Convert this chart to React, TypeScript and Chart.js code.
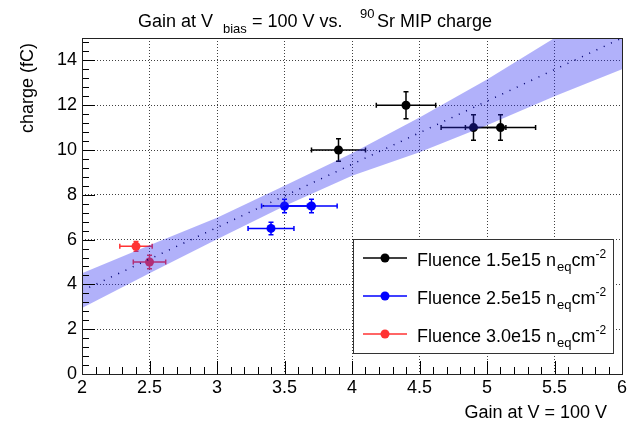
import React, { useEffect, useRef } from 'react';
import { Chart, registerables } from 'chart.js';

Chart.register(...registerables);

// ---- axis ranges & ticks ----
const X_MIN = 2;
const X_MAX = 6;
const Y_MIN = 0;
const Y_MAX = 15;
const X_TICKS = [2, 2.5, 3, 3.5, 4, 4.5, 5, 5.5, 6];
const Y_TICKS = [0, 2, 4, 6, 8, 10, 12, 14];
const X_MINOR_STEP = 0.1;
const Y_MINOR_STEP = 0.4;

// ---- series ----
const SERIES_LABELS = ['Fluence 1.5e15', 'Fluence 2.5e15', 'Fluence 3.0e15'];
const SERIES_COLORS = ['#000000', '#0000ff', '#ff3333'];

const BLACK_X = [3.9, 4.4, 4.9, 5.1];
const BLACK_Y = [10.0, 12.0, 11.0, 11.0];
const BLACK_XERR = [0.2, 0.22, 0.24, 0.26];
const BLACK_YERR = [0.5, 0.6, 0.57, 0.57];

const BLUE_X = [3.4, 3.5, 3.7];
const BLUE_Y = [6.5, 7.5, 7.5];
const BLUE_XERR = [0.17, 0.17, 0.19];
const BLUE_YERR = [0.28, 0.3, 0.3];

const RED_X = [2.4, 2.5];
const RED_Y = [5.7, 5.0];
const RED_XERR = [0.12, 0.12];
const RED_YERR = [0.22, 0.3];

// ---- fit & confidence band ----
const FIT_X = [2, 6];
const FIT_Y = [3.72, 15.0];
const BAND_X = [2, 2.5, 3, 3.5, 4, 4.5, 5, 5.5, 6];
const BAND_LOW = [2.95, 4.5, 6.02, 7.5, 8.85, 9.9, 11.1, 12.4, 13.6];
const BAND_HIGH = [4.5, 5.75, 6.98, 8.4, 9.85, 11.45, 13.15, 15.0, 16.9];

// ---- texts ----
const TITLE_PARTS = ['Gain at V', 'bias', '= 100 V vs.', '90', 'Sr MIP charge'];
const X_TITLE = 'Gain at V = 100 V';
const Y_TITLE = 'charge (fC)';
const LEGEND_UNIT = ['n', 'eq', 'cm', '-2'];

const FONT = '"Liberation Sans", Arial, Helvetica, sans-serif';
const f = (px: number) => `${px}px ${FONT}`;

const pts = (xs: number[], ys: number[]) => xs.map((x, i) => ({ x, y: ys[i] }));

const errorBarPlugin = {
  id: 'errorBars',
  beforeDatasetDraw(chart: any, args: any) {
    const ds = chart.data.datasets[args.index];
    if (!ds.errX) return;
    const { ctx, scales } = chart;
    const xs = scales.x;
    const ys = scales.y;
    ctx.save();
    ctx.strokeStyle = ds.backgroundColor;
    ctx.lineWidth = 1.5;
    ds.data.forEach((p: any, i: number) => {
      const cx = xs.getPixelForValue(p.x);
      const cy = ys.getPixelForValue(p.y);
      const x0 = xs.getPixelForValue(p.x - ds.errX[i]);
      const x1 = xs.getPixelForValue(p.x + ds.errX[i]);
      const y0 = ys.getPixelForValue(p.y - ds.errY[i]);
      const y1 = ys.getPixelForValue(p.y + ds.errY[i]);
      ctx.beginPath();
      ctx.moveTo(x0, cy);
      ctx.lineTo(x1, cy);
      ctx.moveTo(x0, cy - 2.5);
      ctx.lineTo(x0, cy + 2.5);
      ctx.moveTo(x1, cy - 2.5);
      ctx.lineTo(x1, cy + 2.5);
      ctx.moveTo(cx, y0);
      ctx.lineTo(cx, y1);
      ctx.moveTo(cx - 2.5, y0);
      ctx.lineTo(cx + 2.5, y0);
      ctx.moveTo(cx - 2.5, y1);
      ctx.lineTo(cx + 2.5, y1);
      ctx.stroke();
    });
    ctx.restore();
  },
};

const framePlugin = {
  id: 'rootFrame',
  afterDatasetsDraw(chart: any) {
    const { ctx, chartArea: a, scales } = chart;
    const xs = scales.x;
    const ys = scales.y;
    ctx.save();
    ctx.strokeStyle = '#000';
    ctx.lineWidth = 1;
    ctx.beginPath();
    const nx = Math.round((X_MAX - X_MIN) / X_MINOR_STEP);
    for (let i = 0; i <= nx; i++) {
      const v = X_MIN + i * X_MINOR_STEP;
      const major = i % 5 === 0;
      const px = Math.round(xs.getPixelForValue(v)) + 0.5;
      ctx.moveTo(px, a.bottom);
      ctx.lineTo(px, a.bottom - (major ? 13 : 7));
    }
    const ny = Math.floor((Y_MAX - Y_MIN) / Y_MINOR_STEP + 1e-6);
    for (let i = 0; i <= ny; i++) {
      const v = Y_MIN + i * Y_MINOR_STEP;
      const major = i % 5 === 0;
      const py = Math.round(ys.getPixelForValue(v)) + 0.5;
      ctx.moveTo(a.left, py);
      ctx.lineTo(a.left + (major ? 13 : 7), py);
    }
    ctx.stroke();
    ctx.strokeStyle = '#222';
    ctx.strokeRect(Math.round(a.left) + 0.5, Math.round(a.top) + 0.5, Math.round(a.right - a.left), Math.round(a.bottom - a.top));
    ctx.restore();
  },
  afterDraw(chart: any) {
    const { ctx } = chart;
    ctx.save();
    ctx.fillStyle = '#000';
    ctx.textBaseline = 'alphabetic';
    // title
    const titleX = [138, 223, 252, 360, 377];
    const titleSize = [18, 13, 18, 13, 18];
    const titleBase = [27, 33, 27, 18, 27];
    TITLE_PARTS.forEach((t, i) => {
      ctx.font = f(titleSize[i]);
      ctx.textAlign = 'left';
      ctx.fillText(t, titleX[i], titleBase[i]);
    });
    // x title
    ctx.font = f(18);
    ctx.textAlign = 'right';
    ctx.fillText(X_TITLE, 607, 418);
    // y title
    ctx.save();
    ctx.translate(28, 43);
    ctx.rotate(-Math.PI / 2);
    ctx.textAlign = 'right';
    ctx.textBaseline = 'middle';
    ctx.fillText(Y_TITLE, 0, 0);
    ctx.restore();

    // legend
    const bx = 353, by = 239, bw = 260, bh = 114;
    ctx.fillStyle = '#fff';
    ctx.fillRect(bx, by, bw, bh);
    ctx.strokeStyle = '#333';
    ctx.lineWidth = 1;
    ctx.strokeRect(bx + 0.5, by + 0.5, bw, bh);
    const rowY = [258, 296, 334];
    SERIES_LABELS.forEach((lab, i) => {
      const y = rowY[i];
      ctx.strokeStyle = SERIES_COLORS[i];
      ctx.lineWidth = 1.5;
      ctx.beginPath();
      ctx.moveTo(363, y);
      ctx.lineTo(407, y);
      ctx.stroke();
      ctx.fillStyle = SERIES_COLORS[i];
      ctx.beginPath();
      ctx.arc(385, y, 4.5, 0, Math.PI * 2);
      ctx.fill();
      ctx.fillStyle = '#000';
      ctx.textAlign = 'left';
      ctx.textBaseline = 'alphabetic';
      let x = 417;
      const base = y + 8;
      ctx.font = f(18);
      const main = lab + ' ' + LEGEND_UNIT[0];
      ctx.fillText(main, x, base);
      x += ctx.measureText(main).width + 1;
      ctx.font = f(13);
      ctx.fillText(LEGEND_UNIT[1], x, base + 5);
      x += ctx.measureText(LEGEND_UNIT[1]).width;
      ctx.font = f(18);
      ctx.fillText(LEGEND_UNIT[2], x, base);
      x += ctx.measureText(LEGEND_UNIT[2]).width;
      ctx.font = f(12);
      ctx.fillText(LEGEND_UNIT[3], x, base - 8);
    });
    ctx.restore();
  },
};

export default function App() {
  const ref = useRef<HTMLCanvasElement | null>(null);
  useEffect(() => {
    document.body.style.margin = '0';
    const canvas = ref.current;
    if (!canvas) return;
    const mk = (xs: number[], ys: number[], ex: number[], ey: number[], i: number) => ({
      label: SERIES_LABELS[i],
      type: 'scatter',
      data: pts(xs, ys),
      errX: ex,
      errY: ey,
      backgroundColor: SERIES_COLORS[i],
      borderColor: SERIES_COLORS[i],
      borderWidth: 0,
      pointRadius: 4.5,
      order: 3,
    });
    const chart = new Chart(canvas, {
      type: 'scatter',
      data: {
        datasets: [
          {
            label: 'band-low',
            type: 'line',
            data: pts(BAND_X, BAND_LOW),
            showLine: true,
            borderWidth: 0,
            borderColor: 'rgba(0,0,0,0)',
            pointRadius: 0,
            fill: false,
            order: 1,
          },
          {
            label: 'band-high',
            type: 'line',
            data: pts(BAND_X, BAND_HIGH),
            showLine: true,
            borderWidth: 0,
            borderColor: 'rgba(0,0,0,0)',
            backgroundColor: 'rgba(40,40,240,0.36)',
            pointRadius: 0,
            fill: '-1',
            order: 1,
          },
          {
            label: 'fit',
            type: 'line',
            data: pts(FIT_X, FIT_Y),
            showLine: true,
            borderColor: '#000070',
            borderWidth: 1.5,
            borderDash: [1, 7],
            pointRadius: 0,
            fill: false,
            order: 0,
          },
          mk(BLACK_X, BLACK_Y, BLACK_XERR, BLACK_YERR, 0),
          mk(BLUE_X, BLUE_Y, BLUE_XERR, BLUE_YERR, 1),
          mk(RED_X, RED_Y, RED_XERR, RED_YERR, 2),
        ] as any,
      },
      options: {
        responsive: false,
        animation: false,
        layout: { padding: { top: 38, right: 9, left: 0, bottom: 0 } },
        plugins: {
          legend: { display: false },
          tooltip: { enabled: false },
          title: { display: false },
        },
        scales: {
          x: {
            type: 'linear',
            min: X_MIN,
            max: X_MAX,
            afterBuildTicks: (s: any) => {
              s.ticks = X_TICKS.map((v) => ({ value: v }));
            },
            afterFit: (s: any) => {
              s.height = 51;
            },
            ticks: {
              callback: (v: any) => String(v),
              font: { family: FONT, size: 18 },
              color: '#000',
              padding: 3,
              autoSkip: false,
              maxRotation: 0,
            },
            grid: { color: 'rgba(0,0,0,0.75)', lineWidth: 1, drawTicks: false },
            border: { display: false, dash: [1, 2] },
          },
          y: {
            type: 'linear',
            min: Y_MIN,
            max: Y_MAX,
            afterBuildTicks: (s: any) => {
              s.ticks = Y_TICKS.map((v) => ({ value: v }));
            },
            afterFit: (s: any) => {
              s.width = 82;
            },
            ticks: {
              callback: (v: any) => String(v),
              font: { family: FONT, size: 18 },
              color: '#000',
              padding: 5,
              autoSkip: false,
            },
            grid: { color: 'rgba(0,0,0,0.75)', lineWidth: 1, drawTicks: false },
            border: { display: false, dash: [1, 2] },
          },
        },
      } as any,
      plugins: [errorBarPlugin, framePlugin],
    });
    return () => chart.destroy();
  }, []);
  return (
    <div style={{ width: 631, height: 425 }}>
      <canvas ref={ref} width={631} height={425} style={{ display: 'block' }} />
    </div>
  );
}
